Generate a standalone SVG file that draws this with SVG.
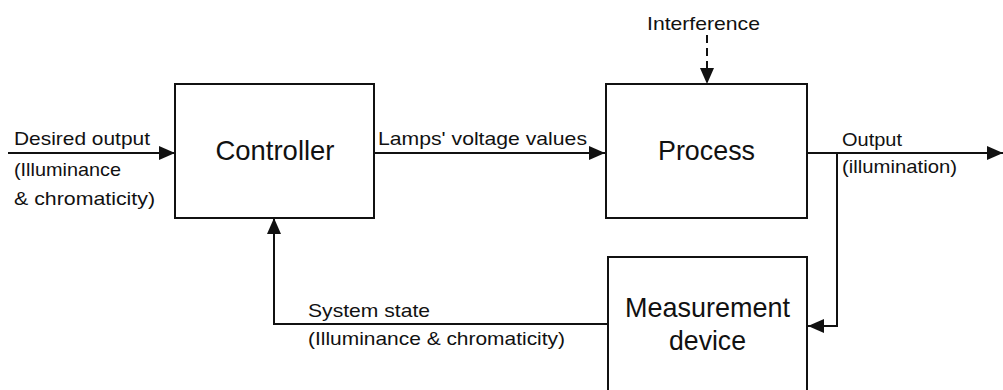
<svg xmlns="http://www.w3.org/2000/svg" width="1003" height="390" viewBox="0 0 1003 390">
<style>
.box{fill:#fff;stroke:#111;stroke-width:2}
.ln{fill:none;stroke:#111;stroke-width:2}
.dash{stroke-dasharray:8 5}
.big{font-family:"Liberation Sans",Arial,sans-serif;font-size:28px;fill:#111;text-anchor:middle}
.sm{font-family:"Liberation Sans",Arial,sans-serif;font-size:19px;fill:#111}
</style>
<defs>
<marker id="ah" viewBox="0 0 16 14" refX="16" refY="7" markerWidth="16" markerHeight="14" markerUnits="userSpaceOnUse" orient="auto">
<path d="M0,0 L16,7 L0,14 Z" fill="#111"/>
</marker>
</defs>
<rect width="1003" height="390" fill="#fff"/>
<g id="connectors">
<line class="ln" x1="8" y1="153" x2="175" y2="153" marker-end="url(#ah)"/>
<line class="ln" x1="374" y1="153" x2="605" y2="153" marker-end="url(#ah)"/>
<line class="ln dash" x1="707" y1="35" x2="707" y2="84" marker-end="url(#ah)"/>
<line class="ln" x1="807" y1="153" x2="1003" y2="153" marker-end="url(#ah)"/>
<polyline class="ln" points="837,153 837,326 808,326" marker-end="url(#ah)"/>
<polyline class="ln" points="608,324 274,324 274,218" marker-end="url(#ah)"/>
<text class="sm" x="14" y="145" textLength="136" lengthAdjust="spacingAndGlyphs">Desired output</text>
<text class="sm" x="14" y="176" textLength="107" lengthAdjust="spacingAndGlyphs">(Illuminance</text>
<text class="sm" x="14" y="205" textLength="141" lengthAdjust="spacingAndGlyphs">&amp; chromaticity)</text>
<text class="sm" x="378" y="145" textLength="209" lengthAdjust="spacingAndGlyphs">Lamps' voltage values</text>
<text class="sm" x="647" y="30" textLength="113" lengthAdjust="spacingAndGlyphs">Interference</text>
<text class="sm" x="842" y="146" textLength="60" lengthAdjust="spacingAndGlyphs">Output</text>
<text class="sm" x="842" y="173" textLength="115" lengthAdjust="spacingAndGlyphs">(illumination)</text>
<text class="sm" x="308" y="317" textLength="122" lengthAdjust="spacingAndGlyphs">System state</text>
<text class="sm" x="308" y="345" textLength="257" lengthAdjust="spacingAndGlyphs">(Illuminance &amp; chromaticity)</text>
</g>
<g id="controller">
<rect class="box" x="175" y="84" width="199" height="134"/>
<text class="big" x="275" y="160" textLength="119" lengthAdjust="spacingAndGlyphs">Controller</text>
</g>
<g id="process">
<rect class="box" x="606" y="84" width="201" height="134"/>
<text class="big" x="706.5" y="160" textLength="97" lengthAdjust="spacingAndGlyphs">Process</text>
</g>
<g id="measurement">
<rect class="box" x="608" y="257" width="199" height="140"/>
<text class="big" x="707.5" y="317" textLength="165" lengthAdjust="spacingAndGlyphs">Measurement</text>
<text class="big" x="707.5" y="350" textLength="77" lengthAdjust="spacingAndGlyphs">device</text>
</g>
</svg>
